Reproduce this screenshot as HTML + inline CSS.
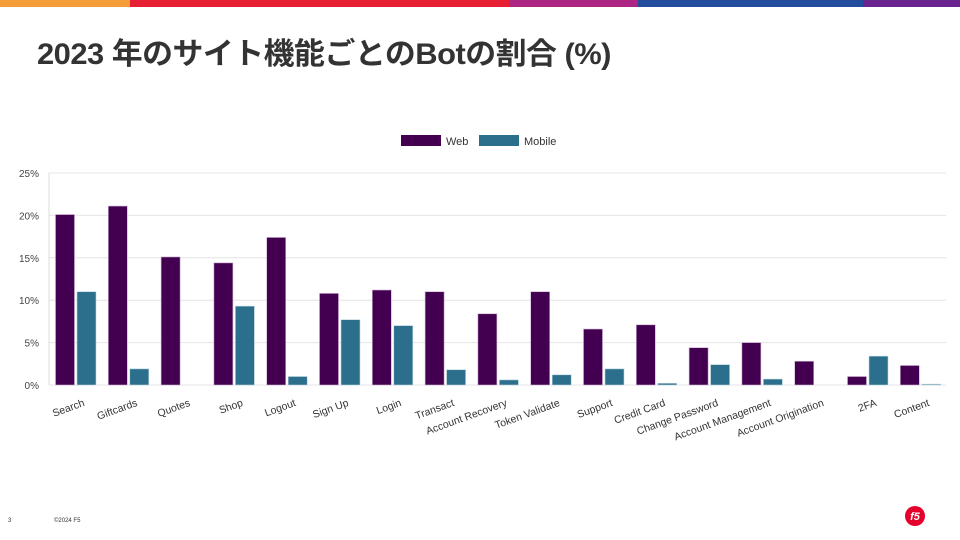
<!DOCTYPE html>
<html><head><meta charset="utf-8"><style>
body{margin:0;width:960px;height:540px;background:#fff;overflow:hidden;position:relative;font-family:"Liberation Sans","Noto Sans CJK JP",sans-serif}
.bar{position:absolute;top:0;height:7px}
h1{position:absolute;left:37px;top:29px;margin:0;font-size:30px;font-weight:bold;color:#333;letter-spacing:-0.5px;transform:scaleX(1.03);transform-origin:0 0;white-space:nowrap}
</style></head><body>
<div class="bar" style="left:0;width:130px;background:#f29d37"></div>
<div class="bar" style="left:130px;width:379px;background:#e61f33"></div>
<div class="bar" style="left:509px;width:129px;background:#ad2582"></div>
<div class="bar" style="left:638px;width:225px;background:#234b9e"></div>
<div class="bar" style="left:863px;width:97px;background:#6a2490"></div>
<h1>2023 年のサイト機能ごとのBotの割合 (%)</h1>
<svg width="960" height="540" style="position:absolute;left:0;top:0" font-family="Liberation Sans, sans-serif">
<rect x="401" y="135" width="40" height="11" fill="#430050"/>
<text x="446" y="145" font-size="11" fill="#333">Web</text>
<rect x="479" y="135" width="40" height="11" fill="#2b6f8c"/>
<text x="524" y="145" font-size="11" fill="#333">Mobile</text>
<g id="c"></g>
<text x="8" y="522" font-size="6" fill="#333">3</text>
<text x="54" y="522" font-size="6" fill="#333">©2024 F5</text>
<circle cx="915" cy="516" r="10" fill="#e4002b"/>
<text x="915" y="520" font-size="11" font-weight="bold" fill="#fff" text-anchor="middle" font-style="italic">f5</text>
</svg>
<script>
var d=[["Search",20.1,11.0],["Giftcards",21.1,1.9],["Quotes",15.1,0],["Shop",14.4,9.3],["Logout",17.4,1.0],["Sign Up",10.8,7.7],["Login",11.2,7.0],["Transact",11.0,1.8],["Account Recovery",8.4,0.6],["Token Validate",11.0,1.2],["Support",6.6,1.9],["Credit Card",7.1,0.2],["Change Password",4.4,2.4],["Account Management",5.0,0.7],["Account Origination",2.8,0],["2FA",1.0,3.4],["Content",2.3,0.1]];
var s='',y0=385,k=8.48;
for(var i=0;i<=5;i++){var y=y0-i*5*k;s+='<line x1="49" x2="946" y1="'+y+'" y2="'+y+'" stroke="#e4e4e4"/><text x="39" y="'+(y+4)+'" font-size="10" fill="#444" text-anchor="end">'+(i*5)+'%</text>';}
s+='<line x1="49" x2="49" y1="173" y2="385" stroke="#ddd"/>';
d.forEach(function(r,i){var x=49+6.5+i*52.8;
s+='<rect x="'+x+'" y="'+(y0-r[1]*k)+'" width="19" height="'+(r[1]*k)+'" fill="#430050" stroke="#c9b0cf" stroke-width="0.6"/>';
if(r[2]>0)s+='<rect x="'+(x+21.5)+'" y="'+(y0-r[2]*k)+'" width="19" height="'+(r[2]*k)+'" fill="#2b6f8c" stroke="#b9d3dd" stroke-width="0.6"/>';
var cx=x+27;
s+='<text transform="translate('+cx+',398) rotate(-20)" font-size="10.5" fill="#333" text-anchor="end" dy="8">'+r[0]+'</text>';});
document.getElementById('c').innerHTML=s;
</script>
</body></html>
